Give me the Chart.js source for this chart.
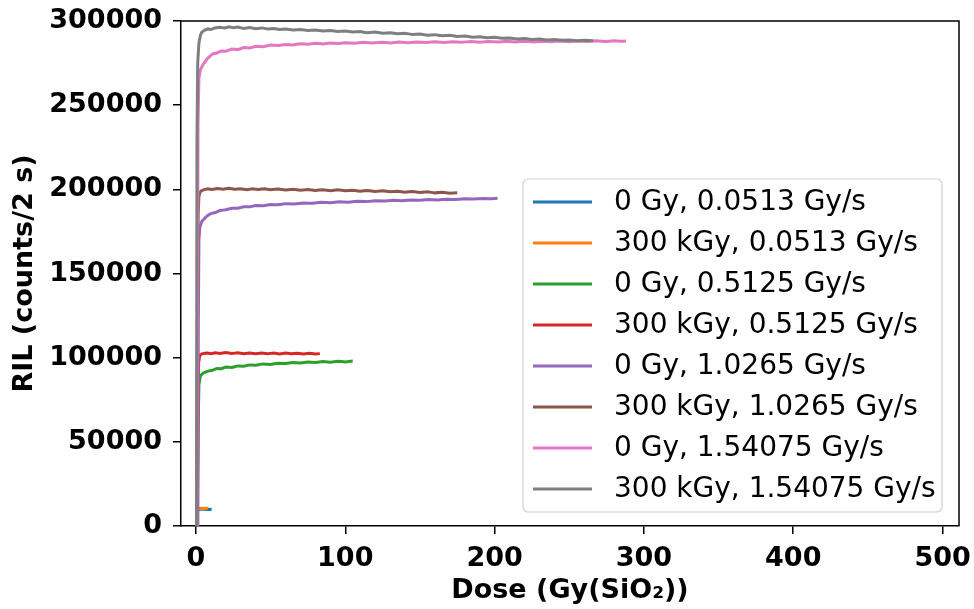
<!DOCTYPE html>
<html>
<head>
<meta charset="utf-8">
<script src="https://cdn.jsdelivr.net/npm/chart.js@4.4.0/dist/chart.umd.min.js"></script>
<style>
  html, body { margin: 0; padding: 0; background: #fff; }
  canvas { display: block; }
</style>
</head>
<body>
<canvas id="ril" width="974" height="609"></canvas>
<script>
const seriesLabels = [
  '0 Gy, 0.0513 Gy/s',
  '300 kGy, 0.0513 Gy/s',
  '0 Gy, 0.5125 Gy/s',
  '300 kGy, 0.5125 Gy/s',
  '0 Gy, 1.0265 Gy/s',
  '300 kGy, 1.0265 Gy/s',
  '0 Gy, 1.54075 Gy/s',
  '300 kGy, 1.54075 Gy/s'
];
const seriesColors = ['#1f77b4', '#ff7f0e', '#2ca02c', '#d62728', '#9467bd', '#8c564b', '#e377c2', '#7f7f7f'];

const xTickValues = [0, 100, 200, 300, 400, 500];
const yTickValues = [0, 50000, 100000, 150000, 200000, 250000, 300000];

// [dose, RIL] pairs
const blue0 = [[0.5, 0], [1, 8800], [1.6, 9700], [3, 9900], [5, 10000], [7, 9800], [9, 10000], [10.5, 9700]];
const orange300 = [[0.5, 0], [1, 9000], [1.6, 10300], [3, 10500], [5, 10400], [8, 10500]];
const green0 = [[0.9, 0], [1.5, 60000], [2, 84000], [3, 89300], [5, 90900], [8, 92000], [11, 92500], [14, 93500], [17, 93400], [20, 94400], [24, 94200], [28, 95100], [32, 94900], [36, 95700], [40, 95500], [45, 96300], [50, 96000], [55, 96700], [60, 96500], [65, 97100], [70, 96800], [75, 97400], [80, 97100], [85, 97700], [90, 97300], [95, 97900], [100, 97500], [105, 98000]];
const red300 = [[0.8, 0], [1.3, 60000], [1.8, 97000], [2.5, 101200], [4, 102300], [7, 102800], [10, 102400], [13, 102900], [16, 102500], [20, 103000], [24, 102500], [28, 102900], [32, 102400], [36, 102800], [40, 102300], [44, 102800], [48, 102400], [52, 102700], [56, 102200], [60, 102700], [64, 102300], [68, 102600], [72, 102200], [76, 102600], [80, 102200], [83, 102400]];
const purple0 = [[1.3, 0], [1.6, 120000], [2.0, 170000], [2.6, 177500], [4, 181000], [7, 183800], [10, 185600], [13, 186200], [16, 187400], [20, 187900], [24, 188700], [28, 188800], [32, 189700], [36, 189600], [40, 190400], [45, 190300], [50, 191000], [55, 190800], [60, 191500], [66, 191300], [72, 191900], [78, 191700], [84, 192300], [90, 192000], [96, 192600], [102, 192400], [108, 192900], [114, 192700], [120, 193200], [126, 193000], [132, 193500], [138, 193200], [144, 193700], [150, 193500], [156, 193900], [162, 193700], [168, 194100], [174, 193900], [180, 194400], [186, 194200], [192, 194600], [198, 194400], [202, 194700]];
const brown300 = [[0.6, 0], [1.1, 120000], [1.5, 185000], [2, 196000], [3, 198800], [5, 199700], [8, 200300], [11, 199900], [14, 200500], [18, 200100], [22, 200600], [26, 200000], [30, 200400], [34, 199800], [38, 200300], [42, 199900], [46, 200400], [50, 199800], [55, 200200], [60, 199600], [65, 200100], [70, 199500], [75, 199900], [80, 199300], [85, 199800], [90, 199200], [95, 199700], [100, 199100], [105, 199500], [110, 198900], [115, 199300], [120, 198700], [125, 199100], [130, 198500], [135, 198900], [140, 198300], [145, 198700], [150, 198100], [155, 198500], [160, 197900], [165, 198200], [170, 197700], [175, 197900]];
const pink0 = [[0.6, 0], [1.0, 120000], [1.4, 240000], [2, 266000], [3, 271000], [5, 274500], [8, 278000], [11, 280300], [14, 281000], [17, 282200], [20, 282000], [24, 283300], [28, 283000], [32, 284200], [36, 283900], [40, 285000], [45, 284700], [50, 285700], [55, 285400], [60, 286100], [65, 285800], [70, 286500], [75, 286200], [80, 286800], [85, 286400], [90, 286900], [95, 286600], [100, 287100], [106, 286800], [112, 287300], [118, 286900], [124, 287400], [130, 287000], [136, 287500], [142, 287100], [148, 287500], [154, 287200], [160, 287600], [166, 287300], [172, 287700], [178, 287400], [184, 287800], [190, 287400], [196, 287800], [202, 287500], [208, 287900], [214, 287600], [220, 288000], [226, 287600], [232, 288000], [238, 287700], [244, 288100], [250, 287700], [256, 288100], [262, 287800], [268, 288200], [274, 287800], [280, 288200], [284, 287900], [288, 288100]];
const gray300 = [[0.4, 0], [0.5, 100000], [0.7, 230000], [1.2, 275000], [2.0, 287000], [3, 291500], [4, 293500], [6, 294600], [8, 295300], [10, 295000], [13, 295900], [16, 296300], [19, 295800], [22, 296500], [25, 296000], [28, 296400], [32, 295600], [36, 296100], [40, 295400], [44, 295900], [48, 295200], [52, 295600], [56, 294900], [60, 295300], [65, 294600], [70, 295000], [75, 294300], [80, 294700], [85, 294000], [90, 294400], [95, 293700], [100, 294000], [105, 293400], [110, 293700], [115, 293000], [120, 293400], [125, 292700], [130, 293000], [135, 292400], [140, 292700], [145, 292000], [150, 292300], [155, 291600], [160, 291900], [165, 291200], [170, 291500], [175, 290800], [180, 291100], [185, 290400], [190, 290700], [195, 290000], [200, 290300], [205, 289700], [210, 289900], [215, 289300], [220, 289600], [225, 289000], [230, 289300], [235, 288700], [240, 289000], [245, 288500], [250, 288700], [255, 288300], [260, 288500], [266, 288200]];

const seriesData = [blue0, orange300, green0, red300, purple0, brown300, pink0, gray300];

const FONT = 'DejaVu Sans';
Chart.defaults.font.family = FONT;
Chart.defaults.color = '#000';

// draws the top and right spines
const frameBox = {
  id: 'frameBox',
  afterDraw(chart) {
    const { ctx, chartArea: a } = chart;
    ctx.save();
    ctx.strokeStyle = '#000';
    ctx.lineWidth = 1.5;
    ctx.beginPath();
    ctx.moveTo(a.left, a.top);
    ctx.lineTo(a.right, a.top);
    ctx.lineTo(a.right, a.bottom);
    ctx.stroke();
    ctx.restore();
  }
};

// matplotlib-like legend box inside the plot
const boxLegend = {
  id: 'boxLegend',
  afterDatasetsDraw(chart) {
    const ctx = chart.ctx;
    const x0 = 523, y0 = 179, w = 419, h = 333, r = 5;
    ctx.save();
    ctx.beginPath();
    ctx.roundRect(x0, y0, w, h, r);
    ctx.fillStyle = 'rgba(255,255,255,0.8)';
    ctx.fill();
    ctx.strokeStyle = '#d0d0d0';
    ctx.lineWidth = 1.2;
    ctx.stroke();
    ctx.font = '28px "' + FONT + '"';
    ctx.textBaseline = 'middle';
    ctx.fillStyle = '#000';
    seriesLabels.forEach((label, i) => {
      const y = 202 + i * 41;
      ctx.beginPath();
      ctx.strokeStyle = seriesColors[i];
      ctx.lineWidth = 3;
      ctx.moveTo(533, y);
      ctx.lineTo(592, y);
      ctx.stroke();
      ctx.fillText(label, 614, y + 1);
    });
    ctx.restore();
  }
};

new Chart(document.getElementById('ril'), {
  type: 'line',
  data: {
    datasets: seriesData.map((pts, i) => ({
      label: seriesLabels[i],
      data: pts.map(p => ({ x: p[0], y: p[1] })),
      borderColor: seriesColors[i],
      backgroundColor: seriesColors[i],
      borderWidth: 3,
      pointRadius: 0,
      tension: 0.000001, // keeps Chart.js off its fast path so the steep rise is stroked in full
      fill: false,
      order: seriesData.length - i
    }))
  },
  options: {
    responsive: false,
    animation: false,
    events: [],
    layout: { padding: { top: 21, right: 15, left: 0, bottom: 0 } },
    plugins: {
      legend: { display: false },
      tooltip: { enabled: false }
    },
    scales: {
      x: {
        type: 'linear',
        min: -10,
        max: 511,
        afterBuildTicks: scale => { scale.ticks = xTickValues.map(v => ({ value: v })); },
        afterFit: scale => { scale.height = 83; scale.paddingLeft = 0; scale.paddingRight = 0; },
        ticks: {
          font: { size: 27, weight: 'bold' },
          color: '#000',
          padding: 9,
          maxRotation: 0,
          callback: v => String(v)
        },
        grid: { drawOnChartArea: false, drawTicks: true, tickLength: 8, color: '#000', lineWidth: 1.5 },
        border: { color: '#000', width: 1.5 },
        title: {
          display: true,
          text: 'Dose (Gy(SiO\u2082))',
          font: { size: 27, weight: 'bold' },
          color: '#000',
          padding: { top: 0, bottom: 2 }
        }
      },
      y: {
        type: 'linear',
        min: 0,
        max: 300000,
        afterBuildTicks: scale => { scale.ticks = yTickValues.map(v => ({ value: v })); },
        afterFit: scale => { scale.width = 181; scale.paddingTop = 0; scale.paddingBottom = 0; },
        ticks: {
          font: { size: 27, weight: 'bold' },
          color: '#000',
          padding: 11,
          callback: v => String(v)
        },
        grid: { drawOnChartArea: false, drawTicks: true, tickLength: 8, color: '#000', lineWidth: 1.5 },
        border: { color: '#000', width: 1.5 },
        title: {
          display: true,
          text: 'RIL (counts/2 s)',
          font: { size: 27, weight: 'bold' },
          color: '#000',
          padding: { top: 9, bottom: 0 }
        }
      }
    }
  },
  plugins: [frameBox, boxLegend]
});
</script>
</body>
</html>
